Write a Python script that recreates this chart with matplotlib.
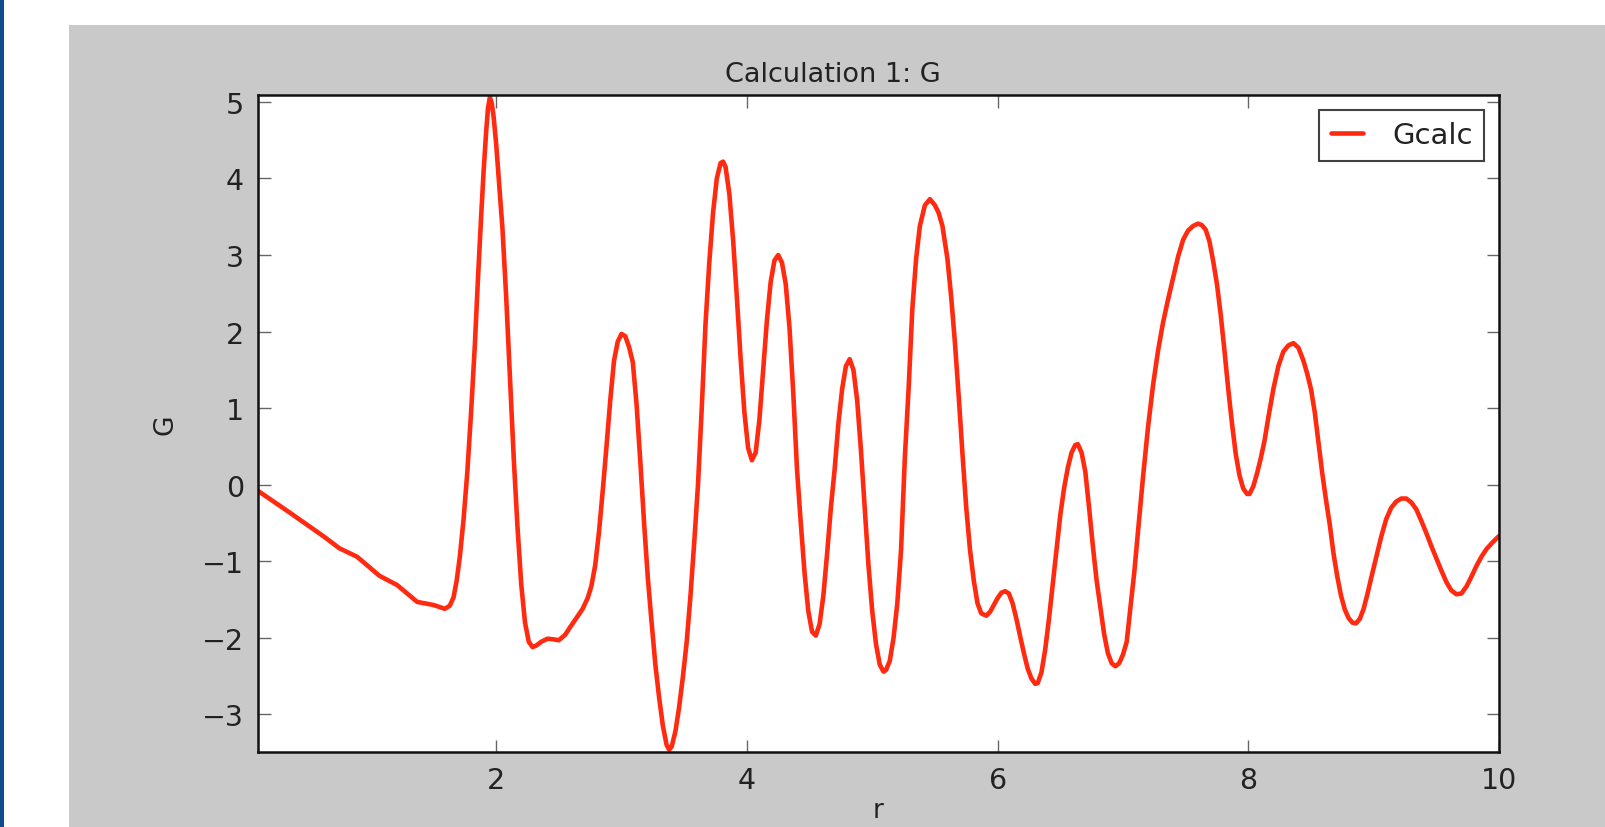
import numpy as np
import matplotlib.pyplot as plt
from matplotlib.patches import Rectangle

# values (r, G)
r = [0.10, 0.35, 0.62, 0.75, 0.89, 1.07, 1.21, 1.37, 1.50, 1.59, 1.63, 1.66, 1.685, 1.71,
     1.74, 1.77, 1.80, 1.83, 1.855, 1.88, 1.90, 1.92, 1.935, 1.95, 1.965, 1.98, 2.00, 2.03,
     2.05, 2.08, 2.11, 2.14, 2.17, 2.20, 2.23, 2.26, 2.29, 2.32, 2.36, 2.41, 2.46, 2.50,
     2.55, 2.59, 2.64, 2.69, 2.73, 2.76, 2.79, 2.82, 2.85, 2.88, 2.91, 2.94, 2.97, 3.00,
     3.03, 3.06, 3.09, 3.12, 3.15, 3.18, 3.21, 3.24, 3.27, 3.30, 3.33, 3.36, 3.38, 3.40,
     3.43, 3.46, 3.49, 3.52, 3.55, 3.58, 3.61, 3.64, 3.67, 3.70, 3.73, 3.76, 3.79, 3.81,
     3.83, 3.86, 3.89, 3.92, 3.95, 3.98, 4.01, 4.04, 4.07, 4.10, 4.13, 4.16, 4.19, 4.22,
     4.25, 4.28, 4.31, 4.34, 4.37, 4.40, 4.43, 4.46, 4.49, 4.52, 4.55, 4.58, 4.61, 4.64,
     4.67, 4.70, 4.73, 4.76, 4.79, 4.82, 4.85, 4.88, 4.91, 4.94, 4.97, 5.00, 5.03, 5.06,
     5.09, 5.11, 5.14, 5.17, 5.20, 5.23, 5.26, 5.29, 5.32, 5.35, 5.38, 5.42, 5.46, 5.50,
     5.53, 5.56, 5.60, 5.63, 5.66, 5.69, 5.72, 5.75, 5.78, 5.81, 5.84, 5.87, 5.91, 5.94,
     5.97, 6.00, 6.03, 6.06, 6.09, 6.12, 6.15, 6.18, 6.21, 6.24, 6.27, 6.30, 6.32, 6.35,
     6.38, 6.41, 6.44, 6.47, 6.50, 6.53, 6.56, 6.59, 6.62, 6.64, 6.67, 6.70, 6.73, 6.76,
     6.79, 6.82, 6.85, 6.88, 6.91, 6.94, 6.97, 7.00, 7.03, 7.06, 7.09, 7.12, 7.16, 7.20,
     7.24, 7.28, 7.32, 7.36, 7.40, 7.44, 7.48, 7.52, 7.56, 7.60, 7.63, 7.66, 7.69, 7.72,
     7.75, 7.78, 7.81, 7.84, 7.87, 7.90, 7.93, 7.96, 7.99, 8.01, 8.04, 8.07, 8.10, 8.13,
     8.16, 8.20, 8.24, 8.28, 8.32, 8.36, 8.40, 8.44, 8.47, 8.50, 8.53, 8.56, 8.59, 8.62,
     8.65, 8.68, 8.71, 8.74, 8.77, 8.80, 8.83, 8.86, 8.89, 8.92, 8.95, 8.98, 9.02, 9.06,
     9.10, 9.14, 9.18, 9.22, 9.26, 9.30, 9.34, 9.38, 9.42, 9.46, 9.50, 9.54, 9.58, 9.62,
     9.66, 9.70, 9.74, 9.78, 9.82, 9.86, 9.90, 9.95, 10.00]
G = [-0.08, -0.36, -0.67, -0.83, -0.94, -1.19, -1.31, -1.53, -1.57, -1.62, -1.58, -1.47, -1.25, -0.94,
     -0.45, 0.17, 0.95, 1.83, 2.70, 3.50, 4.10, 4.61, 4.92, 5.06, 4.98, 4.80, 4.45, 3.80,
     3.35, 2.45, 1.40, 0.35, -0.55, -1.30, -1.80, -2.05, -2.12, -2.10, -2.05, -2.01, -2.02, -2.03,
     -1.96, -1.86, -1.74, -1.62, -1.48, -1.32, -1.05, -0.62, -0.08, 0.50, 1.10, 1.62, 1.87, 1.97,
     1.94, 1.80, 1.60, 1.05, 0.30, -0.50, -1.22, -1.80, -2.35, -2.78, -3.15, -3.40, -3.46, -3.42,
     -3.22, -2.90, -2.50, -2.05, -1.45, -0.75, 0.00, 1.00, 2.10, 2.90, 3.55, 4.00, 4.20, 4.22,
     4.15, 3.80, 3.20, 2.45, 1.65, 0.95, 0.48, 0.32, 0.42, 0.85, 1.50, 2.15, 2.65, 2.93,
     3.00, 2.90, 2.62, 2.05, 1.20, 0.20, -0.50, -1.15, -1.65, -1.92, -1.97, -1.82, -1.45, -0.90,
     -0.30, 0.20, 0.80, 1.25, 1.55, 1.64, 1.50, 1.10, 0.45, -0.30, -1.05, -1.65, -2.08, -2.35,
     -2.44, -2.42, -2.30, -2.00, -1.55, -0.85, 0.35, 1.25, 2.30, 2.95, 3.38, 3.65, 3.73, 3.65,
     3.55, 3.38, 2.95, 2.45, 1.85, 1.15, 0.40, -0.30, -0.85, -1.25, -1.55, -1.68, -1.71, -1.66,
     -1.57, -1.48, -1.41, -1.39, -1.42, -1.55, -1.75, -1.98, -2.20, -2.40, -2.53, -2.60, -2.59, -2.45,
     -2.15, -1.75, -1.30, -0.85, -0.40, -0.05, 0.22, 0.42, 0.52, 0.53, 0.42, 0.17, -0.30, -0.80,
     -1.25, -1.60, -1.95, -2.20, -2.33, -2.37, -2.33, -2.22, -2.05, -1.60, -1.15, -0.62, 0.10, 0.75,
     1.30, 1.75, 2.12, 2.42, 2.70, 2.98, 3.20, 3.32, 3.38, 3.41, 3.39, 3.33, 3.18, 2.92,
     2.62, 2.22, 1.75, 1.25, 0.80, 0.40, 0.12, -0.05, -0.12, -0.12, -0.02, 0.15, 0.35, 0.58,
     0.88, 1.25, 1.55, 1.74, 1.82, 1.85, 1.79, 1.62, 1.45, 1.25, 0.95, 0.55, 0.15, -0.20,
     -0.52, -0.90, -1.20, -1.45, -1.63, -1.74, -1.80, -1.81, -1.75, -1.62, -1.43, -1.22, -0.95, -0.68,
     -0.45, -0.30, -0.22, -0.18, -0.18, -0.23, -0.32, -0.47, -0.63, -0.80, -0.96, -1.12, -1.27, -1.38,
     -1.43, -1.42, -1.33, -1.20, -1.06, -0.94, -0.84, -0.75, -0.67]

W, H = 1605, 828
fig = plt.figure(figsize=(W / 100, H / 100), dpi=100, facecolor='white')

# screenshot framing: blue edge strip and grey figure panel
fig.patches.append(Rectangle((0, 0), 4 / W, 1, transform=fig.transFigure,
                             facecolor='#0e4d8c', edgecolor='none', zorder=-10))
fig.patches.append(Rectangle((69 / W, 0), 1 - 69 / W, (H - 26) / H, transform=fig.transFigure,
                             facecolor='#c9c9c9', edgecolor='none', zorder=-10))

left, right, top, bottom = 258, 1499, 96, 753
ax = fig.add_axes([left / W, 1 - bottom / H, (right - left) / W, (bottom - top) / H])
ax.set_zorder(5)
ax.set_facecolor('white')

ax.plot(r, G, color='#ff2a0f', lw=3.3, label='Gcalc',
        solid_joinstyle='round', solid_capstyle='round')
ax.set_xlim(0.1, 10)
ax.set_ylim(-3.49, 5.09)
ax.set_xticks([2, 4, 6, 8, 10])
ax.set_yticks(range(-3, 6))
ax.set_yticklabels(['\u22123', '\u22122', '\u22121', '0', '1', '2', '3', '4', '5'])

for s in ax.spines.values():
    s.set_linewidth(1.8)
    s.set_color('#111111')
ax.tick_params(direction='in', length=9, width=1, color='#666666', top=True, right=True,
               labelsize=20.5, labelcolor='#222222')
ax.tick_params(axis='x', pad=10)
ax.tick_params(axis='y', pad=10)

ax.set_title('Calculation 1: G', fontsize=19.5, color='#222222', x=0.463, pad=10)
ax.set_ylabel('G', fontsize=19, color='#222222', labelpad=17)
ax.set_xlabel('r', fontsize=19, color='#222222', labelpad=2)

leg = ax.legend(loc='upper right', fontsize=21, frameon=True, fancybox=False,
                handlelength=1.1, handletextpad=1.0, borderpad=0.4,
                borderaxespad=0.5)
leg.get_frame().set_edgecolor('#111111')
leg.get_frame().set_linewidth(1.5)
for t in leg.get_texts():
    t.set_color('#222222')

fig.savefig('out.png', dpi=100, facecolor=fig.get_facecolor())
